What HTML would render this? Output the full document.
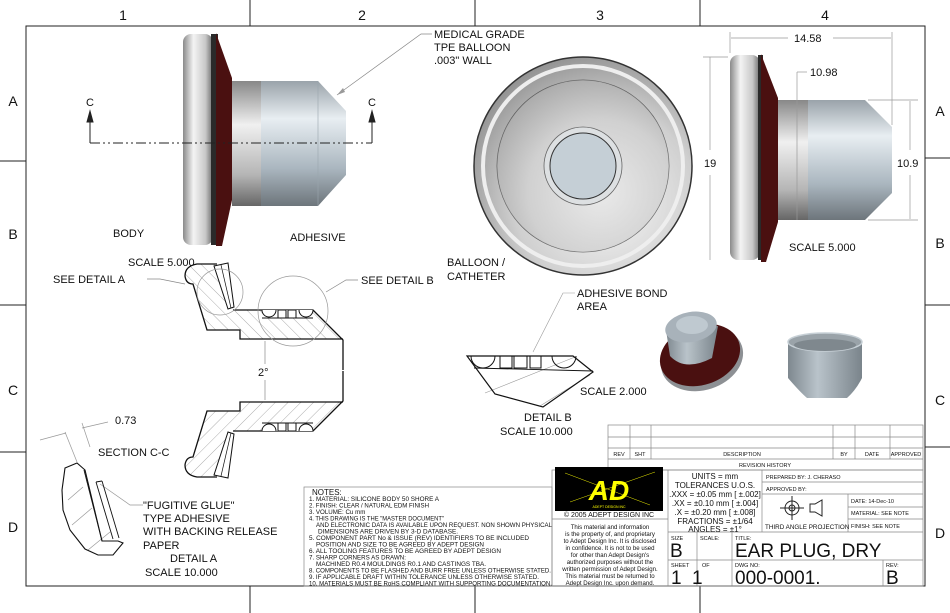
<!DOCTYPE html>
<html><head><meta charset="utf-8"><style>
html,body{margin:0;padding:0;background:#fff}
svg{display:block}
text{font-family:"Liberation Sans",sans-serif;fill:#111}
</style></head><body>
<svg width="950" height="613" viewBox="0 0 950 613" xmlns="http://www.w3.org/2000/svg">
<defs>
<linearGradient id="fl" x1="0" x2="1" y1="0" y2="0"><stop offset="0" stop-color="#8a8a8a"/><stop offset="0.35" stop-color="#f4f4f4"/><stop offset="0.75" stop-color="#c8c8c8"/><stop offset="1" stop-color="#6a6a6a"/></linearGradient>
<linearGradient id="cyl" x1="0" x2="0" y1="0" y2="1"><stop offset="0" stop-color="#9aa3aa"/><stop offset="0.3" stop-color="#e8eef2"/><stop offset="0.7" stop-color="#aab6bf"/><stop offset="1" stop-color="#6d757b"/></linearGradient>
<linearGradient id="gband" x1="0" x2="0" y1="0" y2="1"><stop offset="0" stop-color="#888"/><stop offset="0.35" stop-color="#f0f0f0"/><stop offset="0.75" stop-color="#b5b5b5"/><stop offset="1" stop-color="#666"/></linearGradient>
<radialGradient id="disc" cx="0.6" cy="0.65" r="0.7"><stop offset="0" stop-color="#fafafa"/><stop offset="0.6" stop-color="#cfcfcf"/><stop offset="1" stop-color="#8d8d8d"/></radialGradient>
<linearGradient id="cupg" x1="0" x2="1"><stop offset="0" stop-color="#7e888f"/><stop offset="0.4" stop-color="#b9c3ca"/><stop offset="1" stop-color="#7a848b"/></linearGradient>
<pattern id="hatch" width="9" height="9" patternUnits="userSpaceOnUse" patternTransform="rotate(-45)"><line x1="0" y1="0" x2="0" y2="9" stroke="#777" stroke-width="0.6"/></pattern>
</defs>

<!-- frame -->
<g stroke="#222" stroke-width="1" fill="none">
<rect x="26" y="26" width="899" height="560"/>
<line x1="250" y1="0" x2="250" y2="26"/><line x1="475" y1="0" x2="475" y2="26"/><line x1="700" y1="0" x2="700" y2="26"/>
<line x1="250" y1="586" x2="250" y2="613"/><line x1="475" y1="586" x2="475" y2="613"/><line x1="700" y1="586" x2="700" y2="613"/>
<line x1="0" y1="161" x2="26" y2="161"/><line x1="0" y1="305" x2="26" y2="305"/><line x1="0" y1="452" x2="26" y2="452"/>
<line x1="925" y1="158" x2="950" y2="158"/><line x1="925" y1="305" x2="950" y2="305"/><line x1="925" y1="447" x2="950" y2="447"/>
</g>
<g font-size="14" text-anchor="middle">
<text x="123" y="20">1</text><text x="362" y="20">2</text><text x="600" y="20">3</text><text x="825" y="20">4</text>
<text x="13" y="106">A</text><text x="13" y="239">B</text><text x="13" y="395">C</text><text x="13" y="532">D</text>
<text x="940" y="116">A</text><text x="940" y="248">B</text><text x="940" y="405">C</text><text x="940" y="538">D</text>
</g>

<!-- side body view -->
<rect x="183" y="34" width="30" height="211" rx="8" fill="url(#fl)"/>
<rect x="211" y="34" width="7" height="211" fill="#2a2a2a"/>
<polygon points="216,33 232,78 232,200 222,246 216,246" fill="#4a1010"/>
<rect x="232" y="81" width="30" height="125" fill="url(#gband)"/>
<path d="M261,81 L318,81 L346,111 L346,175 L318,206 L261,206 Z" fill="url(#cyl)"/>
<line x1="318" y1="81" x2="318" y2="206" stroke="#9aa6ae" stroke-width="0.6"/>
<line x1="90" y1="143" x2="372" y2="143" stroke="#222" stroke-dasharray="10,3,2,3,2,3" stroke-width="1"/>
<g stroke="#222" fill="#222"><line x1="90" y1="143" x2="90" y2="120"/><polygon points="87,122 93,122 90,111"/><line x1="372" y1="143" x2="372" y2="120"/><polygon points="369,122 375,122 372,111"/></g>
<text x="86" y="106" font-size="11">C</text><text x="368" y="106" font-size="11">C</text>
<text x="113" y="237" font-size="11">BODY</text>
<text x="290" y="241" font-size="11">ADHESIVE</text>
<text x="434" y="38" font-size="11">MEDICAL GRADE</text>
<text x="434" y="51" font-size="11">TPE BALLOON</text>
<text x="434" y="64" font-size="11">.003" WALL</text>
<polyline points="432,34 421,34 337,95" fill="none" stroke="#888" stroke-width="0.7"/>
<polygon points="337,95 343,88 345,92" fill="#999"/>

<!-- front round view -->
<circle cx="583" cy="166" r="109" fill="url(#disc)" stroke="#333" stroke-width="1.5"/>
<circle cx="583" cy="166" r="100" fill="none" stroke="#eee" stroke-width="4"/>
<circle cx="583" cy="166" r="86" fill="#d2d2d2" stroke="#555" stroke-width="0.8"/>
<circle cx="583" cy="166" r="86" fill="url(#disc)" opacity="0.6"/>
<circle cx="583" cy="166" r="39" fill="#dde0e2" stroke="#666" stroke-width="0.8"/>
<circle cx="583" cy="166" r="33" fill="#c5cfd6" stroke="#333" stroke-width="1"/>
<text x="447" y="266" font-size="11">BALLOON /</text>
<text x="447" y="280" font-size="11">CATHETER</text>

<!-- right side view -->
<rect x="730" y="55" width="30" height="205" rx="8" fill="url(#fl)"/>
<rect x="758" y="55" width="5" height="205" fill="#2a2a2a"/>
<polygon points="761,54 778,98 778,222 766,262 761,262" fill="#4a1010"/>
<rect x="778" y="100" width="30" height="120" fill="url(#gband)"/>
<path d="M808,100 L865,100 L892,127 L892,193 L865,220 L808,220 Z" fill="url(#cyl)"/>
<g stroke="#999" stroke-width="0.7" fill="none">
<line x1="730" y1="32" x2="730" y2="53"/><line x1="892" y1="32" x2="892" y2="125"/>
<line x1="731" y1="38" x2="788" y2="38"/><line x1="833" y1="38" x2="891" y2="38"/>
<line x1="797" y1="72" x2="797" y2="220"/><line x1="797" y1="72" x2="807" y2="72"/>
<line x1="703" y1="57" x2="728" y2="57"/><line x1="710" y1="57" x2="710" y2="150"/><line x1="710" y1="175" x2="710" y2="260"/>
<line x1="868" y1="100" x2="918" y2="100"/><line x1="868" y1="220" x2="918" y2="220"/>
<line x1="910" y1="101" x2="910" y2="150"/><line x1="910" y1="175" x2="910" y2="219"/>
</g>
<text x="794" y="42" font-size="11">14.58</text>
<text x="810" y="76" font-size="11">10.98</text>
<text x="704" y="167" font-size="11">19</text>
<text x="897" y="167" font-size="11">10.9</text>
<text x="789" y="251" font-size="11">SCALE  5.000</text>

<!-- section C-C -->
<g id="half">
<path d="M193,284 L207,330 L240,330 L240,339 L343,339 L343,340 L313,310 L233,310 L217,264 L197,264 Q185,266 185,276 Q186,284 193,284 Z" fill="url(#hatch)" stroke="none"/>
<path d="M343,370 L343,340 L313,310 L233,310 M217,264 L197,264 Q185,266 185,276 Q186,284 193,284 L207,330 L240,330 L240,339 L343,339" fill="none" stroke="#111" stroke-width="1.3"/>
<polygon points="214,266 228,263 234,307 228,309" fill="#fff" stroke="#111" stroke-width="1"/>
<line x1="221" y1="265" x2="231" y2="308" stroke="#111" stroke-width="0.7"/>
<g fill="#fff" stroke="#111" stroke-width="1">
<rect x="262" y="310" width="51" height="8" fill="#fff" stroke="none"/>
<path d="M262,310 A7,7 0 0 0 276,310"/><rect x="278" y="310" width="8" height="8"/><rect x="288" y="310" width="8" height="8"/><path d="M299,310 A7,7 0 0 0 313,310"/>
<line x1="262" y1="318" x2="313" y2="318"/>
</g>
</g>
<use href="#half" transform="translate(0,741) scale(1,-1)"/>
<circle cx="220" cy="292" r="23" fill="none" stroke="#999" stroke-width="0.7"/>
<circle cx="293" cy="311" r="35" fill="none" stroke="#999" stroke-width="0.7"/>
<g stroke="#888" stroke-width="0.7" fill="none">
<polyline points="147,279 160,279 185,284"/><polyline points="358,280 346,280 326,292"/>
<line x1="265" y1="341" x2="265" y2="364"/><line x1="265" y1="380" x2="265" y2="400"/>
</g>
<text x="128" y="266" font-size="11">SCALE  5.000</text>
<text x="53" y="283" font-size="11">SEE DETAIL      A</text>
<text x="361" y="284" font-size="11">SEE DETAIL      B</text>
<text x="258" y="376" font-size="11">2°</text>
<text x="115" y="424" font-size="11">0.73</text>
<text x="98" y="456" font-size="11">SECTION  C-C</text>

<!-- detail A -->
<g stroke="#999" stroke-width="0.7" fill="none">
<line x1="40" y1="440" x2="66" y2="433"/><line x1="82" y1="428" x2="108" y2="422"/>
<line x1="65" y1="432" x2="77" y2="462"/><line x1="82" y1="423" x2="90" y2="447"/>
<polyline points="143,505 130,505 100,484"/>
<line x1="68" y1="500" x2="83" y2="487"/><line x1="72" y1="525" x2="92" y2="508"/><line x1="88" y1="550" x2="110" y2="532"/>
</g>
<path d="M65,468 L77,463 L85,470 L102,541 L118,541 L123,543 L113,555 L98,555 L85,549 L70,530 L63,510 L62,490 Z" fill="none" stroke="#111" stroke-width="1.1"/>
<g stroke="#111" stroke-width="0.9"><line x1="84" y1="470" x2="102" y2="541"/><line x1="96" y1="482" x2="113" y2="539"/><line x1="102" y1="481" x2="119" y2="538"/><line x1="96" y1="482" x2="102" y2="481"/></g>
<g font-size="11">
<text x="143" y="509">"FUGITIVE GLUE"</text>
<text x="143" y="522">TYPE ADHESIVE</text>
<text x="143" y="535">WITH BACKING RELEASE</text>
<text x="143" y="549">PAPER</text>
<text x="170" y="562">DETAIL  A</text>
<text x="145" y="576">SCALE  10.000</text>
</g>

<!-- detail B -->
<g stroke="#999" stroke-width="0.6" fill="none">
<line x1="485" y1="393" x2="575" y2="357"/><line x1="540" y1="406" x2="590" y2="375"/>
<polyline points="575,293 563,293 533,352"/>
</g>
<path d="M467,356 L573,356 L593,372 L543,407 L495,394 Z" fill="none" stroke="#111" stroke-width="1.2"/>
<line x1="474" y1="368" x2="593" y2="371" stroke="#111" stroke-width="0.9"/>
<g fill="none" stroke="#111" stroke-width="1">
<path d="M471,356 A12,12 0 0 0 495,356"/><path d="M552,356 A12,12 0 0 0 576,356"/>
<rect x="500" y="356" width="12" height="12"/><rect x="514" y="356" width="13" height="12"/><rect x="530" y="356" width="11" height="12"/>
</g>
<text x="577" y="297" font-size="11">ADHESIVE BOND</text>
<text x="577" y="310" font-size="11">AREA</text>
<text x="580" y="395" font-size="11">SCALE  2.000</text>
<text x="524" y="421" font-size="11">DETAIL  B</text>
<text x="500" y="435" font-size="11">SCALE  10.000</text>

<!-- iso plug -->
<ellipse cx="702" cy="359" rx="42" ry="31" transform="rotate(-18 702 359)" fill="#8d9094"/>
<ellipse cx="700" cy="355" rx="41" ry="30" transform="rotate(-18 700 355)" fill="#4a1010"/>
<path d="M666,330 L670,356 Q685,372 712,358 L718,326 Z" fill="url(#cupg)"/>
<ellipse cx="691" cy="327" rx="26" ry="15" transform="rotate(-10 691 327)" fill="#a8b2ba"/>
<ellipse cx="692" cy="325" rx="16" ry="9" fill="#bfc9d0"/>
<!-- iso cup -->
<path d="M788,342 L788,378 Q800,392 807,398 L847,398 Q856,390 862,378 L862,342 Z" fill="url(#cupg)"/>
<ellipse cx="825" cy="342" rx="37" ry="9" fill="#9aa3a9" stroke="#c7d0d6" stroke-width="1.5"/>
<ellipse cx="825" cy="345" rx="31" ry="6" fill="#7f888e"/>

<!-- notes -->
<rect x="304" y="487" width="248" height="99" fill="none" stroke="#888" stroke-width="0.7"/>
<g font-size="6.2">
<text x="312" y="495" font-size="8">NOTES:</text>
<text x="309" y="501" textLength="130" lengthAdjust="spacingAndGlyphs">1.  MATERIAL: SILICONE BODY 50 SHORE A</text>
<text x="309" y="507.5" textLength="120" lengthAdjust="spacingAndGlyphs">2.  FINISH:  CLEAR / NATURAL EDM FINISH</text>
<text x="309" y="514">3.  VOLUME:        Cu mm</text>
<text x="309" y="520.5" textLength="135" lengthAdjust="spacingAndGlyphs">4.  THIS DRAWING IS THE "MASTER DOCUMENT"</text>
<text x="316" y="527" textLength="236" lengthAdjust="spacingAndGlyphs">AND ELECTRONIC DATA IS AVAILABLE UPON REQUEST. NON SHOWN PHYSICAL</text>
<text x="318" y="533.5" textLength="140" lengthAdjust="spacingAndGlyphs">DIMENSIONS ARE DRIVEN BY 3-D DATABASE.</text>
<text x="309" y="540" textLength="220" lengthAdjust="spacingAndGlyphs">5.  COMPONENT PART No &amp; ISSUE (REV) IDENTIFIERS TO BE INCLUDED</text>
<text x="316" y="546.5" textLength="168" lengthAdjust="spacingAndGlyphs">POSITION AND SIZE TO BE AGREED BY ADEPT DESIGN</text>
<text x="309" y="553" textLength="192" lengthAdjust="spacingAndGlyphs">6.  ALL TOOLING FEATURES TO BE AGREED BY ADEPT DESIGN</text>
<text x="309" y="559.5">7.  SHARP CORNERS AS DRAWN:</text>
<text x="316" y="566" textLength="170" lengthAdjust="spacingAndGlyphs">MACHINED R0.4 MOULDINGS R0.1 AND CASTINGS TBA.</text>
<text x="309" y="572.5" textLength="242" lengthAdjust="spacingAndGlyphs">8.  COMPONENTS TO BE FLASHED AND BURR FREE UNLESS OTHERWISE STATED.</text>
<text x="309" y="579" textLength="230" lengthAdjust="spacingAndGlyphs">9.  IF APPLICABLE DRAFT WITHIN TOLERANCE UNLESS OTHERWISE STATED.</text>
<text x="309" y="585.5" textLength="243" lengthAdjust="spacingAndGlyphs">10. MATERIALS MUST BE RoHS COMPLIANT WITH SUPPORTING DOCUMENTATION.</text>
</g>

<!-- revision table -->
<g stroke="#888" stroke-width="0.7" fill="none">
<rect x="608" y="425" width="315" height="45"/>
<line x1="608" y1="437" x2="923" y2="437"/><line x1="608" y1="448" x2="923" y2="448"/><line x1="608" y1="459" x2="923" y2="459"/>
<line x1="630" y1="425" x2="630" y2="459"/><line x1="651" y1="425" x2="651" y2="459"/><line x1="833" y1="425" x2="833" y2="459"/><line x1="855" y1="425" x2="855" y2="459"/><line x1="890" y1="425" x2="890" y2="459"/>
</g>
<g font-size="5.5" text-anchor="middle">
<text x="619" y="456">REV</text><text x="640" y="456">SHT</text><text x="742" y="456">DESCRIPTION</text><text x="844" y="456">BY</text><text x="872" y="456">DATE</text><text x="906" y="456">APPROVED</text>
<text x="765" y="467">REVISION HISTORY</text>
</g>

<!-- title block -->
<g stroke="#888" stroke-width="0.7" fill="none">
<rect x="552" y="470" width="371" height="116"/>
<line x1="552" y1="519" x2="668" y2="519"/>
<line x1="668" y1="470" x2="668" y2="586"/>
<line x1="762" y1="470" x2="762" y2="532"/>
<line x1="762" y1="482" x2="923" y2="482"/>
<line x1="762" y1="494" x2="923" y2="494"/>
<line x1="848" y1="494" x2="848" y2="532"/>
<line x1="848" y1="507" x2="923" y2="507"/><line x1="848" y1="519" x2="923" y2="519"/>
<line x1="668" y1="532" x2="923" y2="532"/>
<line x1="668" y1="560" x2="923" y2="560"/>
<line x1="697" y1="532" x2="697" y2="586"/><line x1="732" y1="532" x2="732" y2="560"/>
<line x1="732" y1="560" x2="732" y2="586"/>
<line x1="883" y1="560" x2="883" y2="586"/>
</g>
<rect x="555" y="467" width="108" height="44" fill="#000"/>
<g stroke="#ee0" fill="none" stroke-width="0.5"><line x1="565" y1="473" x2="650" y2="505"/><line x1="570" y1="502" x2="655" y2="472"/></g>
<text x="609" y="500" font-size="28" font-weight="bold" style="fill:#ff0" text-anchor="middle" font-style="italic">AD</text>
<text x="609" y="508" font-size="3.5" style="fill:#ff0" text-anchor="middle">ADEPT DESIGN INC</text>
<text x="609" y="517" font-size="7" text-anchor="middle">© 2005 ADEPT DESIGN INC</text>
<g font-size="6.1" text-anchor="middle">
<text x="610" y="529">This material and information</text>
<text x="610" y="536">is the property of, and proprietary</text>
<text x="610" y="543">to Adept Design Inc. It is disclosed</text>
<text x="610" y="550">in confidence. It is not to be used</text>
<text x="610" y="557">for  other than Adept Design's</text>
<text x="610" y="564">authorized purposes without the</text>
<text x="610" y="571">written permission of Adept Design.</text>
<text x="610" y="578">This material must be returned to</text>
<text x="610" y="585">Adept Design Inc. upon demand.</text>
</g>
<g font-size="8" text-anchor="middle">
<text x="715" y="479">UNITS = mm</text>
<text x="715" y="488">TOLERANCES U.O.S.</text>
<text x="715" y="497">.XXX = ±0.05 mm [ ±.002]</text>
<text x="715" y="506">.XX = ±0.10 mm [ ±.004]</text>
<text x="715" y="515">.X = ±0.20 mm [ ±.008]</text>
<text x="715" y="524">FRACTIONS = ±1/64</text>
<text x="715" y="532">ANGLES = ±1°</text>
</g>
<g font-size="5.5">
<text x="766" y="479">PREPARED BY: J. CHERASO</text>
<text x="766" y="491">APPROVED BY:</text>
<text x="851" y="503">DATE: 14-Dec-10</text>
<text x="851" y="515">MATERIAL: SEE NOTE</text>
<text x="851" y="528">FINISH: SEE NOTE</text>
<text x="671" y="540">SIZE</text><text x="700" y="540">SCALE:</text><text x="735" y="540">TITLE:</text>
<text x="671" y="567">SHEET</text><text x="702" y="567">OF</text><text x="735" y="567">DWG NO:</text><text x="886" y="567">REV:</text>
</g>
<text x="765" y="529" font-size="6.3">THIRD ANGLE PROJECTION</text>
<g stroke="#222" fill="none" stroke-width="1">
<circle cx="792" cy="508" r="7"/><circle cx="792" cy="508" r="3"/>
<line x1="780" y1="508" x2="804" y2="508"/><line x1="792" y1="496" x2="792" y2="520"/>
<polygon points="810,504 815,504 822,500 822,516 815,512 810,512"/>
</g>
<text x="670" y="557" font-size="19">B</text>
<text x="735" y="557" font-size="19">EAR PLUG, DRY</text>
<text x="671" y="584" font-size="19">1</text><text x="692" y="584" font-size="19">1</text>
<text x="735" y="584" font-size="19">000-0001.</text>
<text x="886" y="584" font-size="19">B</text>
</svg>
</body></html>
